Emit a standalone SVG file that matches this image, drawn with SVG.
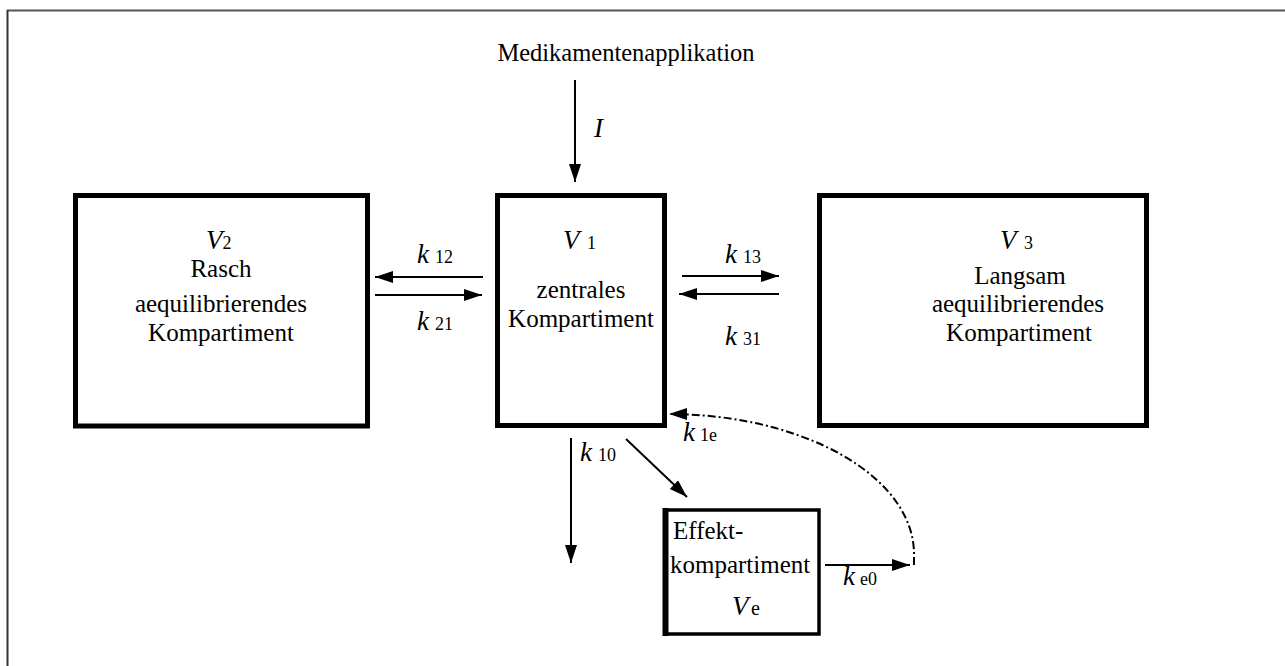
<svg xmlns="http://www.w3.org/2000/svg" width="1285" height="666" viewBox="0 0 1285 666" font-family="'Liberation Serif', 'Times New Roman', 'DejaVu Serif', serif">
<style>
text, tspan{font-family:'Liberation Serif','Times New Roman','DejaVu Serif',serif;fill:#000}
.t{font-size:25px}
.it{font-style:italic;font-size:27px}
.sub{font-size:18px}
.box{fill:#fff;stroke:#000;stroke-width:5}
.ln{fill:none;stroke:#000;stroke-width:2}
</style>
<defs>
<marker id="ah" markerUnits="userSpaceOnUse" markerWidth="20" markerHeight="14" refX="18" refY="6" orient="auto">
<path d="M0,0 L18,6 L0,12 z" fill="#000"/>
</marker>
</defs>
<rect width="1285" height="666" fill="#fff"/>
<g id="frame">
<line x1="7" y1="10.5" x2="1285" y2="10.5" stroke="#555" stroke-width="2"/>
<line x1="7.5" y1="10" x2="7.5" y2="666" stroke="#333" stroke-width="2"/>
</g>
<g id="title">
<text class="t" x="626" y="61" text-anchor="middle" style="font-size:24.5px">Medikamentenapplikation</text>
</g>
<g id="v2">
<rect class="box" x="75.5" y="195.5" width="292" height="230.5"/>
<text><tspan class="it" x="206" y="249">V</tspan><tspan class="sub">2</tspan></text>
<text class="t" text-anchor="middle" x="221" y="277">Rasch</text>
<text class="t" text-anchor="middle" x="221" y="312">aequilibrierendes</text>
<text class="t" text-anchor="middle" x="221" y="341">Kompartiment</text>
</g>
<g id="v1">
<rect class="box" x="497.5" y="195.5" width="167" height="230"/>
<text><tspan class="it" x="563" y="249">V</tspan><tspan class="sub" x="587">1</tspan></text>
<text class="t" text-anchor="middle" x="581" y="298">zentrales</text>
<text class="t" text-anchor="middle" x="581" y="327">Kompartiment</text>
</g>
<g id="v3">
<rect class="box" x="819.5" y="195.5" width="327" height="230"/>
<text><tspan class="it" x="1000" y="249">V</tspan><tspan class="sub" x="1024">3</tspan></text>
<text class="t" text-anchor="middle" x="1020" y="284">Langsam</text>
<text class="t" text-anchor="middle" x="1018" y="312">aequilibrierendes</text>
<text class="t" text-anchor="middle" x="1019" y="341">Kompartiment</text>
</g>
<g id="ve">
<rect x="666" y="510" width="153" height="124" fill="#fff" stroke="#000" stroke-width="3.5"/>
<line x1="665.5" y1="508" x2="665.5" y2="636" stroke="#000" stroke-width="6"/>
<text class="t" x="673" y="539">Effekt-</text>
<text class="t" x="670" y="573">kompartiment</text>
<text><tspan class="it" x="732" y="615">V</tspan><tspan x="751" style="font-size:20px">e</tspan></text>
</g>
<g id="connectors">
<line class="ln" x1="575" y1="80" x2="575" y2="182" marker-end="url(#ah)"/>
<line class="ln" x1="483" y1="277" x2="375" y2="277" marker-end="url(#ah)"/>
<line class="ln" x1="375" y1="295" x2="482" y2="295" marker-end="url(#ah)"/>
<line class="ln" x1="682" y1="276" x2="779" y2="276" marker-end="url(#ah)"/>
<line class="ln" x1="779" y1="294" x2="679" y2="294" marker-end="url(#ah)"/>
<line class="ln" x1="571" y1="438" x2="571" y2="563" marker-end="url(#ah)"/>
<line class="ln" x1="626" y1="439" x2="687" y2="497" marker-end="url(#ah)"/>
<line class="ln" x1="825" y1="565" x2="910" y2="565" marker-end="url(#ah)"/>
<path class="ln" d="M914,565 L914,555 A246,140 0 0 0 669,414" stroke-dasharray="8,3,2,3" marker-end="url(#ah)"/>
</g>
<g id="labels">
<text x="594" y="137" class="it">I</text>
<text><tspan class="it" x="417" y="263">k</tspan><tspan class="sub" x="435">12</tspan></text>
<text><tspan class="it" x="417" y="330">k</tspan><tspan class="sub" x="435">21</tspan></text>
<text><tspan class="it" x="725" y="263">k</tspan><tspan class="sub" x="743">13</tspan></text>
<text><tspan class="it" x="725" y="345">k</tspan><tspan class="sub" x="743">31</tspan></text>
<text><tspan class="it" x="580" y="461">k</tspan><tspan class="sub" x="598">10</tspan></text>
<text><tspan class="it" x="683" y="441">k</tspan><tspan class="sub" x="700">1e</tspan></text>
<text><tspan class="it" x="843" y="585">k</tspan><tspan class="sub" x="860">e0</tspan></text>
</g>
</svg>
